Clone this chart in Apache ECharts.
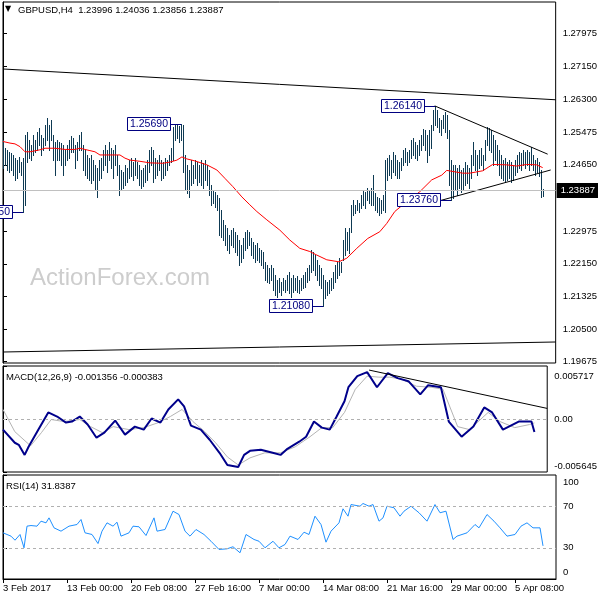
<!DOCTYPE html>
<html><head><meta charset="utf-8">
<script src="https://cdn.jsdelivr.net/npm/echarts/dist/echarts.min.js"></script>
<style>html,body{margin:0;padding:0;background:#fff}#c{width:600px;height:600px}</style>
</head><body><div id="c"></div>
<script>
// ---------- DATA ----------
const symbolTitle = 'GBPUSD,H4';
const lastBarOHLC = [1.23996, 1.24036, 1.23856, 1.23887];

const barHigh = [
1.2528,1.2508,1.2503,1.2497,1.2495,1.2490,1.2482,1.2477,1.2485,1.2472,
1.2482,1.2540,1.2548,1.2528,1.2515,1.2540,1.2528,1.2548,1.2558,1.2540,
1.2533,1.2566,1.2583,1.2566,1.2578,1.2540,1.2523,1.2528,1.2523,1.2520,
1.2515,1.2503,1.2515,1.2528,1.2538,1.2533,1.2515,1.2523,1.2540,1.2548,
1.2515,1.2503,1.2490,1.2482,1.2490,1.2477,1.2465,1.2457,1.2477,1.2482,
1.2503,1.2515,1.2503,1.2523,1.2508,1.2503,1.2515,1.2490,1.2465,1.2452,
1.2447,1.2465,1.2457,1.2477,1.2482,1.2472,1.2482,1.2472,1.2465,1.2452,
1.2457,1.2465,1.2477,1.2503,1.2510,1.2503,1.2482,1.2477,1.2490,1.2477,
1.2472,1.2482,1.2477,1.2490,1.2508,1.2561,1.2566,1.2568,1.2563,1.2569,
1.2566,1.2490,1.2465,1.2452,1.2477,1.2465,1.2477,1.2472,1.2465,1.2477,
1.2470,1.2477,1.2465,1.2452,1.2414,1.2402,1.2396,1.2389,1.2381,1.2351,
1.2326,1.2313,1.2305,1.2288,1.2300,1.2305,1.2295,1.2288,1.2275,1.2262,
1.2280,1.2295,1.2300,1.2295,1.2280,1.2270,1.2262,1.2267,1.2255,1.2250,
1.2245,1.2219,1.2212,1.2204,1.2212,1.2204,1.2186,1.2174,1.2179,1.2169,
1.2179,1.2174,1.2186,1.2194,1.2179,1.2186,1.2179,1.2184,1.2174,1.2179,
1.2186,1.2194,1.2204,1.2212,1.2250,1.2245,1.2237,1.2224,1.2212,1.2204,
1.2186,1.2174,1.2169,1.2174,1.2179,1.2194,1.2212,1.2219,1.2229,1.2219,
1.2275,1.2305,1.2295,1.2305,1.2363,1.2376,1.2363,1.2376,1.2368,1.2389,
1.2402,1.2396,1.2406,1.2402,1.2406,1.2439,1.2394,1.2384,1.2381,1.2376,
1.2389,1.2477,1.2482,1.2490,1.2477,1.2497,1.2490,1.2477,1.2472,1.2482,
1.2503,1.2508,1.2497,1.2503,1.2528,1.2533,1.2523,1.2515,1.2528,1.2540,
1.2556,1.2553,1.2540,1.2553,1.2566,1.2604,1.2614,1.2604,1.2583,1.2578,
1.2591,1.2599,1.2591,1.2553,1.2477,1.2465,1.2465,1.2457,1.2465,1.2452,
1.2457,1.2472,1.2465,1.2457,1.2490,1.2523,1.2503,1.2490,1.2503,1.2508,
1.2490,1.2528,1.2561,1.2558,1.2553,1.2540,1.2528,1.2515,1.2503,1.2490,
1.2477,1.2482,1.2472,1.2477,1.2472,1.2465,1.2477,1.2490,1.2497,1.2495,
1.2503,1.2497,1.2503,1.2497,1.2510,1.2490,1.2477,1.2482,1.2472,1.2452,
1.24036];

const barLow = [
1.2457,1.2465,1.2452,1.2447,1.2452,1.2439,1.2427,1.2432,1.2447,1.2439,
1.2345,1.2363,1.2472,1.2482,1.2477,1.2490,1.2497,1.2503,1.2515,1.2490,
1.2503,1.2515,1.2528,1.2503,1.2528,1.2477,1.2439,1.2477,1.2477,1.2465,
1.2439,1.2465,1.2477,1.2482,1.2497,1.2497,1.2457,1.2477,1.2503,1.2503,
1.2452,1.2439,1.2432,1.2427,1.2419,1.2427,1.2402,1.2384,1.2427,1.2432,
1.2452,1.2465,1.2447,1.2477,1.2457,1.2432,1.2465,1.2439,1.2389,1.2402,
1.2406,1.2414,1.2422,1.2432,1.2437,1.2427,1.2439,1.2432,1.2414,1.2406,
1.2411,1.2422,1.2427,1.2447,1.2465,1.2422,1.2432,1.2439,1.2452,1.2427,
1.2432,1.2439,1.2452,1.2465,1.2472,1.2477,1.2528,1.2533,1.2523,1.2528,
1.2447,1.2402,1.2394,1.2384,1.2414,1.2419,1.2432,1.2414,1.2422,1.2414,
1.2406,1.2427,1.2414,1.2389,1.2363,1.2368,1.2358,1.2351,1.2288,1.2283,
1.2275,1.2262,1.2250,1.2242,1.2262,1.2257,1.2245,1.2237,1.2212,1.2219,
1.2229,1.2250,1.2255,1.2262,1.2237,1.2229,1.2219,1.2224,1.2219,1.2212,
1.2204,1.2174,1.2169,1.2166,1.2174,1.2149,1.2136,1.2131,1.2143,1.2136,
1.2149,1.2143,1.2149,1.2141,1.2131,1.2143,1.2149,1.2143,1.2141,1.2149,
1.2154,1.2156,1.2169,1.2174,1.2194,1.2199,1.2186,1.2174,1.2161,1.2154,
1.2108,1.2128,1.2136,1.2141,1.2149,1.2154,1.2169,1.2179,1.2186,1.2194,
1.2224,1.2237,1.2250,1.2242,1.2295,1.2338,1.2343,1.2351,1.2346,1.2356,
1.2363,1.2356,1.2376,1.2368,1.2363,1.2363,1.2351,1.2346,1.2338,1.2343,
1.2351,1.2346,1.2427,1.2439,1.2432,1.2447,1.2439,1.2432,1.2432,1.2452,
1.2465,1.2472,1.2465,1.2472,1.2482,1.2490,1.2482,1.2477,1.2490,1.2503,
1.2515,1.2503,1.2472,1.2490,1.2508,1.2553,1.2566,1.2561,1.2548,1.2540,
1.2558,1.2548,1.2533,1.2414,1.2376,1.2381,1.2402,1.2389,1.2406,1.2396,
1.2402,1.2414,1.2419,1.2406,1.2432,1.2465,1.2452,1.2439,1.2457,1.2465,
1.2452,1.2477,1.2515,1.2503,1.2497,1.2465,1.2477,1.2465,1.2439,1.2432,
1.2427,1.2422,1.2427,1.2432,1.2422,1.2427,1.2439,1.2447,1.2457,1.2452,
1.2465,1.2457,1.2465,1.2452,1.2465,1.2452,1.2439,1.2447,1.2437,1.2384,
1.23856];

// moving average (red), [bar index, price]
const maLine = [[0,1.2524],[3.5,1.2520],[6,1.2518],[8.5,1.2511],[11,1.2498],[13.5,1.2498],[18.5,1.2503],[21,1.2507],[26,1.2507],[31,1.2504],[36,1.2504],[38.5,1.2507],[41,1.2504],[43.5,1.2501],[46,1.2498],[48.5,1.2490],[58.5,1.2490],[61,1.2482],[63.5,1.2477],[68.5,1.2474],[73.5,1.2470],[80,1.2469],[83.5,1.2472],[87,1.2477],[89.5,1.2485],[92,1.2480],[96,1.2475],[102,1.2465],[107,1.2452],[111,1.2431],[115,1.2410],[119.5,1.2384],[123.5,1.2364],[127,1.2347],[132,1.2326],[138.5,1.2300],[143.5,1.2275],[148.5,1.2254],[153.5,1.2246],[157,1.2237],[162,1.2225],[168,1.2220],[172,1.2229],[177,1.2254],[182.5,1.2279],[188.5,1.2296],[192,1.2317],[196,1.2347],[201,1.2368],[208.5,1.2397],[214.5,1.2427],[219.5,1.2439],[222,1.2451],[230,1.2444],[233.5,1.2444],[240,1.2450],[245,1.2466],[252,1.2465],[257,1.2462],[262,1.2466],[267,1.2465],[270,1.2458]];

// annotated extremes
const markIdx = [10, 89, 160, 216, 224];
const markPrice = [1.2345, 1.2569, 1.2108, 1.2614, 1.2376];

// trend lines [index, price] pairs
const trendTop = [[0,1.27073],[276.5,1.26295]];
const trendBottom = [[0,1.19920],[276.5,1.20173]];
const triUpper = [[216,1.26140],[272.5,1.2492]];
const triLower = [[219,1.2375],[274,1.2452]];

// MACD
const macdLine = [[0,-0.00110],[6,-0.00251],[8,-0.00273],[11,-0.00381],[13,-0.00294],[18,-0.00110],[23,0.00074],[27.5,0.00030],[32,-0.00035],[35,-0.00024],[39,0.00030],[43,-0.00056],[47.5,-0.00197],[51.5,-0.00143],[57,-0.00013],[62,-0.00164],[67,-0.00078],[71.5,-0.00110],[75.5,0.00009],[80,-0.00035],[84,0.00106],[89,0.00214],[92,0.00139],[95.5,-0.00067],[100.5,-0.00110],[105,-0.00219],[110,-0.00359],[114,-0.00489],[119.5,-0.00511],[122.5,-0.00381],[125.5,-0.00338],[131,-0.00327],[137,-0.00359],[141,-0.00381],[144.5,-0.00316],[150.5,-0.00240],[154,-0.00186],[158,-0.00024],[162,-0.00089],[166,-0.00110],[169.5,0.00030],[173.5,0.00193],[175.5,0.00344],[180,0.00463],[185,0.00506],[190,0.00344],[195.5,0.00496],[200.5,0.00442],[206,0.00409],[212,0.00268],[216,0.00366],[222.5,0.00344],[226.5,-0.00024],[233,-0.00186],[239,-0.00078],[244.5,0.00128],[248.5,0.00074],[254,-0.00110],[262,-0.00024],[268.5,-0.00024],[270,-0.001356]];
const macdSignal = [[0,0.00106],[6,-0.00132],[14,-0.00284],[19.5,-0.00143],[24.5,-0.00002],[31,-0.00024],[39,-0.00002],[44.5,-0.00078],[50.5,-0.00143],[56,-0.00078],[64,-0.00110],[71.5,-0.00089],[79,-0.00035],[85,0.00030],[91,0.00106],[96.5,-0.00024],[102.5,-0.00132],[108,-0.00251],[114,-0.00403],[119.5,-0.00489],[125.5,-0.00413],[133,-0.00359],[141,-0.00359],[148.5,-0.00294],[156,-0.00186],[162,-0.00089],[167.5,-0.00089],[173.5,0.00074],[179,0.00322],[185,0.00463],[191,0.00452],[196.5,0.00452],[202.5,0.00431],[210,0.00355],[217.5,0.00344],[223.5,0.00323],[231,-0.00078],[237,-0.00110],[246.5,0.00074],[252.5,-0.00024],[260,-0.00089],[267.5,-0.00056],[270,-0.000383]];
const macdTrend = [[186,0.00528],[276.5,0.00117]];
const macdAxisLabels = [0.005717, 0, -0.005645];

// RSI(14)
const rsiLine = [[0,44.4],[4,41.2],[6,37.3],[8.5,42.8],[10.5,30],[12,50.8],[14,51.4],[17,50.8],[19,55.6],[21.5,54],[23,58.8],[25.5,49.2],[29,46],[33,50.8],[37,52.4],[39,57.2],[41,44.4],[44.5,42.8],[47.5,34.1],[49.5,46],[52,54],[55,50.8],[57,54.6],[59,41.2],[63,44.4],[65,50.8],[68,50.2],[71.5,41.8],[75.5,58.8],[77,46],[81,47.6],[85,65.2],[88,62],[91,46],[93.5,41.2],[96.5,47.6],[100.5,42.8],[104,36.3],[108,28.4],[112,29],[115,31],[118.5,25.2],[121.5,42.8],[125.5,38],[128,36.3],[131,30],[135,36.3],[138,30],[141,33.2],[143.5,41.2],[147.5,38],[150.5,45],[153,42.8],[156,60.4],[159,52.4],[161.5,35.4],[164,46],[168,54],[170,67.5],[172.5,60.4],[174,71.6],[178.5,70],[180,72.6],[183,70],[185,71.6],[188,55.6],[190,58.8],[192,70],[195.5,68.5],[198.5,60.4],[200.5,65.2],[204,70],[208,63.7],[212,55.6],[216,71.6],[218.5,63.7],[221.5,65.2],[225,38],[227,41.2],[232,44.4],[236,52.4],[238,49.2],[242,62],[245.5,55.6],[248.5,49.2],[252,41.2],[256,42.8],[259,50.8],[262,54],[265,49.2],[268.5,49.2],[270,31.8387]];
const rsiLevels = [70, 30];
const rsiAxisLabels = [100, 70, 30, 0];

// axes
const priceTicks = [1.19675,1.20500,1.21325,1.22150,1.22975,1.24650,1.25475,1.26300,1.27150,1.27975];
const timeTickIdx = [0,32,64,96,128,160,192,224,256];
const timeTickLabels = ['3 Feb 2017','13 Feb 00:00','20 Feb 08:00','27 Feb 16:00','7 Mar 00:00','14 Mar 08:00','21 Mar 16:00','29 Mar 00:00','5 Apr 08:00'];

// ---------- CHART ----------
const FONT = 'Liberation Sans, Arial, sans-serif';
const barColor = '#0e3a53';
const xMin = 0, xMax = 276.5;
const lastClose = lastBarOHLC[3];

const chart = echarts.init(document.getElementById('c'), null, {renderer: 'canvas'});

const gridBase = {left: 3, width: 553, show: true, borderColor: '#000', borderWidth: 1, backgroundColor: '#fff'};
const xHidden = (g) => ({type: 'value', gridIndex: g, min: xMin, max: xMax, show: false});
const lblBase = {color: '#000', fontSize: 9.5, fontFamily: FONT, margin: 7};

const option = {
  animation: false,
  backgroundColor: '#fff',
  grid: [
    Object.assign({top: 2, height: 361}, gridBase),
    Object.assign({top: 366, height: 106}, gridBase),
    Object.assign({top: 475, height: 104}, gridBase)
  ],
  xAxis: [
    xHidden(0), xHidden(1),
    {type: 'value', gridIndex: 2, min: xMin, max: xMax,
      axisLine: {show: true, lineStyle: {color: '#000'}},
      axisTick: {show: true, length: 4, lineStyle: {color: '#000'}, customValues: timeTickIdx},
      axisLabel: {show: true, customValues: timeTickIdx, align: 'left', margin: 4, color: '#000', fontSize: 9.5, fontFamily: FONT,
        formatter: (v) => timeTickLabels[timeTickIdx.indexOf(Math.round(v))] || ''},
      splitLine: {show: false}}
  ],
  yAxis: [
    {type: 'value', gridIndex: 0, position: 'right', min: 1.19642, max: 1.28766,
      axisLine: {show: true, lineStyle: {color: '#000'}},
      axisTick: {show: true, length: 4, lineStyle: {color: '#000'}, customValues: priceTicks},
      axisLabel: Object.assign({customValues: priceTicks, formatter: (v) => v.toFixed(5)}, lblBase),
      splitLine: {show: false}},
    {type: 'value', gridIndex: 1, position: 'right', min: -0.005645, max: 0.005717,
      axisLine: {show: true, lineStyle: {color: '#000'}},
      axisTick: {show: true, length: 4, lineStyle: {color: '#000'}, customValues: macdAxisLabels},
      axisLabel: Object.assign({customValues: macdAxisLabels,
        formatter: (v) => v > 0 ? '{t| }\n{t|' + v.toFixed(6) + '}' : (v < 0 ? '{b|' + v.toFixed(6) + '}\n{b| }' : '0.00'),
        rich: {t: {lineHeight: 20, fontSize: 9.5, fontFamily: FONT, color: '#000'}, b: {lineHeight: 12, fontSize: 9.5, fontFamily: FONT, color: '#000'}}}, lblBase),
      splitLine: {show: false}},
    {type: 'value', gridIndex: 2, position: 'right', min: 0, max: 100,
      axisLine: {show: true, lineStyle: {color: '#000'}},
      axisTick: {show: true, length: 4, lineStyle: {color: '#000'}, customValues: rsiAxisLabels},
      axisLabel: Object.assign({customValues: rsiAxisLabels,
        formatter: (v) => v === 100 ? '{t| }\n{t|100}' : (v === 0 ? '{b|0}\n{b| }' : String(v)),
        rich: {t: {lineHeight: 14, fontSize: 9.5, fontFamily: FONT, color: '#000'}, b: {lineHeight: 13, fontSize: 9.5, fontFamily: FONT, color: '#000'}}}, lblBase),
      splitLine: {show: false}}
  ],
  graphic: [
    {type: 'text', left: 30, top: 266, z: 1, silent: true,
      style: {text: 'ActionForex.com', font: '24px ' + FONT, fill: '#cdcdcd'}},
    {type: 'text', left: 5, top: 5, z: 10, style: {text: '▼', font: '8px DejaVu Sans', fill: '#000'}},
    {type: 'text', left: 18, top: 5, z: 10,
      style: {text: symbolTitle + '  ' + lastBarOHLC.map(v => v.toFixed(5)).join(' '), font: '9.5px ' + FONT, fill: '#000'}},
    {type: 'text', left: 6, top: 372, z: 10,
      style: {text: 'MACD(12,26,9) ' + macdLine[macdLine.length-1][1].toFixed(6) + ' ' + macdSignal[macdSignal.length-1][1].toFixed(6), font: '9.5px ' + FONT, fill: '#000'}},
    {type: 'text', left: 6, top: 481, z: 10,
      style: {text: 'RSI(14) ' + rsiLine[rsiLine.length-1][1].toFixed(4), font: '9.5px ' + FONT, fill: '#000'}}
  ],
  series: [
    // current price line + label
    {type: 'line', xAxisIndex: 0, yAxisIndex: 0, z: 1, data: [[0, lastClose]], symbol: 'none', lineStyle: {opacity: 0},
      markLine: {silent: true, symbol: 'none', animation: false,
        lineStyle: {color: '#c0c0c0', type: 'solid', width: 1},
        label: {show: true, position: 'end', distance: 1, formatter: lastClose.toFixed(5), color: '#fff', backgroundColor: '#000',
          padding: [3, 3, 2, 4], fontSize: 9.5, fontFamily: FONT, lineHeight: 10},
        data: [{yAxis: lastClose}]}},
    // OHLC bars (high-low)
    {type: 'custom', xAxisIndex: 0, yAxisIndex: 0, z: 2,
      data: barHigh.map((h, i) => [i, h, barLow[i]]),
      encode: {x: 0, y: [1, 2]},
      renderItem: (params, api) => {
        const i = api.value(0);
        const pH = api.coord([i, api.value(1)]);
        const pL = api.coord([i, api.value(2)]);
        const x = Math.round(pH[0]) + 0.5;
        return {type: 'line', shape: {x1: x, y1: Math.round(pH[1]), x2: x, y2: Math.round(pL[1]) + 1},
          style: {stroke: barColor, lineWidth: 1}};
      }},
    // MA
    {type: 'line', xAxisIndex: 0, yAxisIndex: 0, z: 3, data: maLine, symbol: 'none',
      lineStyle: {color: '#ff0000', width: 1}},
    // trend lines
    ...[trendTop, trendBottom, triUpper, triLower].map(d => ({
      type: 'line', xAxisIndex: 0, yAxisIndex: 0, z: 3, data: d, symbol: 'none',
      lineStyle: {color: '#000', width: 1}})),
    // annotations
    {type: 'custom', xAxisIndex: 0, yAxisIndex: 0, z: 5, clip: false,
      data: markIdx.map((i, k) => [i, markPrice[k]]),
      renderItem: (params, api) => {
        const p = api.coord([api.value(0), api.value(1)]);
        const x = Math.round(p[0]), y = Math.round(p[1]) + 0.5;
        const gap = 11, w = 43, h = 13;
        const txt = api.value(1).toFixed(5);
        return {type: 'group', children: [
          {type: 'line', shape: {x1: x - gap, y1: y, x2: x, y2: y}, style: {stroke: '#000080', lineWidth: 1}},
          {type: 'rect', shape: {x: x - gap - w + 0.5, y: y - 7, width: w, height: h}, style: {fill: '#fff', stroke: '#000080', lineWidth: 1}},
          {type: 'text', style: {text: txt, x: x - gap - w / 2 + 0.5, y: y, align: 'center', verticalAlign: 'middle', fill: '#000080', font: '10.5px ' + FONT}}
        ]};
      }},
    // MACD
    {type: 'line', xAxisIndex: 1, yAxisIndex: 1, z: 2, data: macdSignal, symbol: 'none',
      lineStyle: {color: '#b4b4b4', width: 1},
      markLine: {silent: true, symbol: 'none', label: {show: false},
        lineStyle: {color: '#b0b0b0', type: [3, 3], width: 1}, data: [{yAxis: 0}]}},
    {type: 'line', xAxisIndex: 1, yAxisIndex: 1, z: 3, data: macdLine, symbol: 'none',
      lineStyle: {color: '#00008b', width: 2}},
    {type: 'line', xAxisIndex: 1, yAxisIndex: 1, z: 3, data: macdTrend, symbol: 'none',
      lineStyle: {color: '#000', width: 1}},
    // RSI
    {type: 'line', xAxisIndex: 2, yAxisIndex: 2, z: 3, data: rsiLine, symbol: 'none',
      lineStyle: {color: '#1e90ff', width: 1},
      markLine: {silent: true, symbol: 'none', label: {show: false},
        lineStyle: {color: '#b0b0b0', type: [3, 3], width: 1}, data: rsiLevels.map(v => ({yAxis: v}))}}
  ]
};
chart.setOption(option);
</script></body></html>
